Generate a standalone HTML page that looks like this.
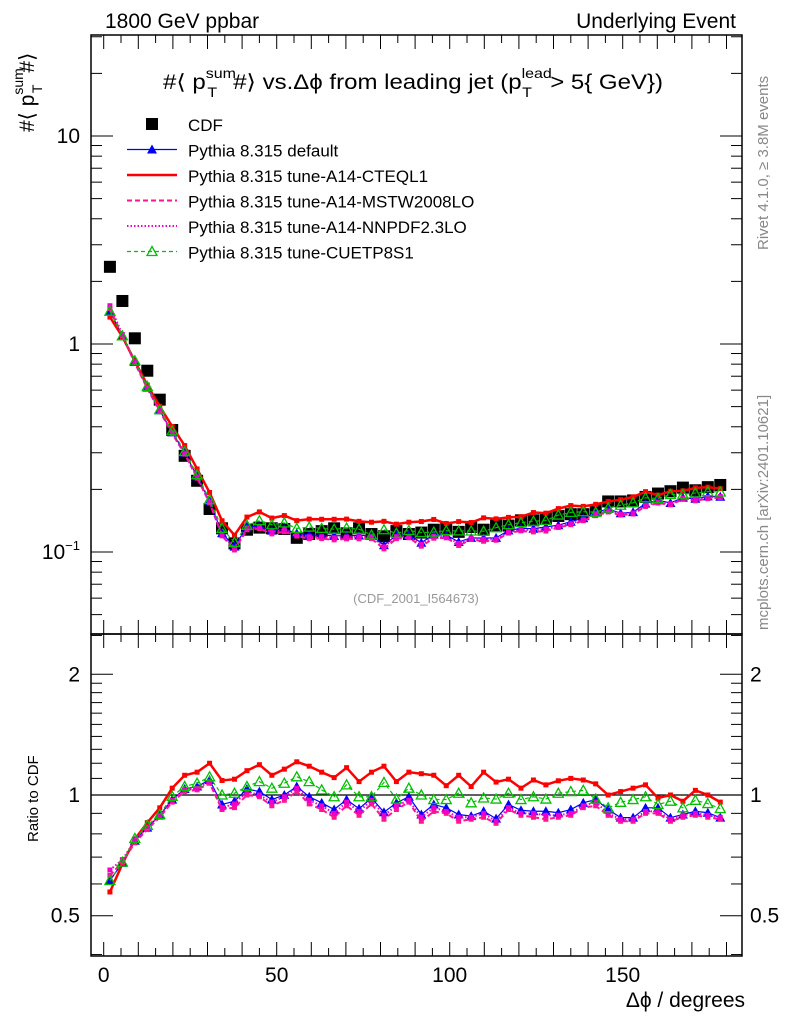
<!DOCTYPE html>
<html><head><meta charset="utf-8"><style>
body{margin:0;background:#fff}
svg{display:block;font-family:"Liberation Sans",sans-serif}
</style></head><body>
<svg id="c" width="786" height="1024" viewBox="0 0 786 1024">
<text x="105" y="28" font-size="21">1800 GeV ppbar</text>
<text x="736" y="28" font-size="21" text-anchor="end">Underlying Event</text>
<text x="163" y="89" font-size="21" textLength="500" lengthAdjust="spacingAndGlyphs">#⟨ p<tspan font-size="14" dy="-11">sum</tspan><tspan font-size="14" dx="-25" dy="19">T</tspan><tspan dy="-8" dx="14">#⟩ vs.Δϕ from leading jet  (p</tspan><tspan font-size="14" dy="-11">lead</tspan><tspan font-size="14" dx="-26" dy="19">T</tspan><tspan dy="-8" dx="16">&gt; 5{ GeV})</tspan></text>
<text transform="translate(34,132) rotate(-90)" font-size="21">#⟨ p<tspan font-size="14" dy="-11">sum</tspan><tspan font-size="14" dx="-25" dy="19">T</tspan><tspan dy="-8" dx="12">#⟩</tspan></text>
<text transform="translate(38,842) rotate(-90)" font-size="15">Ratio to CDF</text>
<text x="745" y="1007" font-size="21" text-anchor="end">Δϕ / degrees</text>
<text transform="translate(768,250) rotate(-90)" font-size="15" fill="#888">Rivet 4.1.0, ≥ 3.8M events</text>
<text transform="translate(768,630) rotate(-90)" font-size="15" fill="#888">mcplots.cern.ch [arXiv:2401.10621]</text>
<text x="416" y="603" font-size="13" fill="#999" text-anchor="middle">(CDF_2001_I564673)</text>
<g id="g"></g>
</svg>
<script>
const phi=[];for(let i=0;i<50;i++)phi.push(1.8+3.6*i);
const cdf=[2.35,1.61,1.065,0.744,0.54,0.386,0.29,0.22,0.161,0.130,0.110,0.128,0.131,0.130,0.129,0.117,0.122,0.126,0.130,0.123,0.130,0.122,0.119,0.126,0.122,0.124,0.128,0.130,0.125,0.132,0.128,0.134,0.134,0.142,0.142,0.145,0.149,0.152,0.152,0.159,0.175,0.175,0.177,0.184,0.191,0.196,0.204,0.198,0.205,0.210];
const rDefault=[.612,.677,.769,.829,.889,.974,1.035,1.05,1.09,.947,.965,1.035,1.02,.974,1.0,1.05,.99,.956,.92,.974,.924,.983,.906,.956,.99,.894,.947,.929,.894,.886,.911,.873,.947,.916,.911,.911,.903,.92,.956,.974,.92,.878,.878,.929,.929,.878,.894,.911,.903,.878];
const rCteq=[.573,.673,.776,.853,.929,1.04,1.12,1.14,1.20,1.087,1.095,1.15,1.19,1.12,1.16,1.21,1.18,1.14,1.105,1.17,1.08,1.14,1.18,1.08,1.14,1.13,1.12,1.055,1.12,1.05,1.14,1.077,1.095,1.04,1.09,1.06,1.085,1.10,1.09,1.066,1.0,1.02,1.04,1.06,.983,1.0,.965,1.027,1.0,.96];
const rMstw=[.63,.68,.76,.82,.88,.96,1.02,1.03,1.07,.92,.93,1.0,.99,.94,.97,1.02,.95,.92,.88,.94,.89,.95,.87,.92,.96,.86,.91,.90,.86,.87,.88,.85,.92,.89,.88,.87,.88,.89,.93,.94,.89,.86,.86,.90,.90,.86,.88,.89,.88,.87];
const rNnpdf=[.65,.69,.77,.83,.89,.97,1.03,1.04,1.08,.93,.95,1.02,1.0,.96,.99,1.04,.97,.94,.90,.96,.91,.97,.89,.94,.97,.88,.93,.91,.88,.88,.90,.86,.93,.90,.90,.89,.89,.90,.94,.96,.90,.87,.87,.91,.91,.87,.89,.90,.89,.88];
const rCuetp=[.612,.68,.779,.84,.894,.992,1.05,1.07,1.11,1.0,1.01,1.05,1.08,1.04,1.07,1.11,1.08,1.03,.99,1.06,.99,.99,1.075,.977,1.04,1.0,.974,.974,1.01,.956,.983,.977,1.01,.974,.99,.977,1.01,1.02,1.027,.977,.929,.959,.974,.99,.947,.965,.929,.97,.952,.925];
const xTicks=[0,50,100,150];
const yMainTicks=[1,10];
const yRatioTicks=[0.5,1,2];

const NS="http://www.w3.org/2000/svg",G=document.getElementById('g');
const L=91,R=742,T=35,M=634,B=956;
const X=v=>103.7+3.46*v;
const Y=v=>344-208*Math.log10(v);
const YR=v=>795-120.7*Math.log2(v);
function el(t,a,p){const e=document.createElementNS(NS,t);for(const k in a)e.setAttribute(k,a[k]);(p||G).appendChild(e);return e;}
function line(x1,y1,x2,y2,w,c){return el('line',{x1,y1,x2,y2,stroke:c||'#000','stroke-width':w||1});}
let f=el('rect',{x:L,y:T,width:R-L,height:M-T,fill:'none',stroke:'#000','stroke-width':1.5});


f=el('rect',{x:L,y:M,width:R-L,height:B-M,fill:'none',stroke:'#000','stroke-width':1.5});


for(let d=0;d<=180;d+=5){const x=X(d),len=d%10==0?14:8;
 line(x,M,x,M-len);line(x,T,x,T+len);line(x,B,x,B-len);line(x,M,x,M+len);}
xTicks.forEach(v=>{const t=el('text',{x:X(v),y:982,'font-size':21,'text-anchor':'middle'});t.textContent=v;

});
for(let e=-2;e<=1;e++)for(let m=1;m<10;m++){const v=m*Math.pow(10,e),y=Y(v);if(y<T||y>M)continue;const len=m==1?22:11;line(L,y,L+len,y);line(R,y,R-len,y);}
yMainTicks.forEach(v=>{const t=el('text',{x:80,y:Y(v)+7,'font-size':21,'text-anchor':'end'});t.textContent=v;

});
let t=el('text',{x:80,y:Y(0.1)+7,'font-size':21,'text-anchor':'end'});t.innerHTML='10<tspan font-size="13" dy="-9">−1</tspan>';


[0.4,0.5,0.6,0.7,0.8,0.9,1,1.1,1.2,1.3,1.4,1.5,1.6,1.7,1.8,1.9,2,2.5].forEach(v=>{const y=YR(v);if(y<M||y>B)return;const len=(v==0.5||v==1||v==2)?22:11;line(L,y,L+len,y);line(R,y,R-len,y);});
yRatioTicks.forEach(v=>{[80,750].forEach(x=>{const t=el('text',{x,y:YR(v)+7,'font-size':21,'text-anchor':x<100?'end':'start'});t.textContent=v;

});});
let one=line(L,YR(1),R,YR(1),1.2);


const series=[
 {name:'default',r:rDefault,c:'#0000ff',w:1.2,dash:'',mk:'tri'},
 {name:'cteql1',r:rCteq,c:'#ff0000',w:2.5,dash:'',mk:'sq'},
 {name:'mstw2008lo',r:rMstw,c:'#ff1493',w:2,dash:'5,3',mk:'sq'},
 {name:'nnpdf23lo',r:rNnpdf,c:'#ee00cc',w:2,dash:'1.5,2',mk:'sq'},
 {name:'cuetp8s1',r:rCuetp,c:'#00c000',w:1.2,dash:'4,3',mk:'otri'}];
function marker(p,x,y,s){
 if(s.mk=='tri')return el('path',{d:`M${x-5},${y+4}L${x+5},${y+4}L${x},${y-5}Z`,fill:s.c},p);
 if(s.mk=='otri')return el('path',{d:`M${x-5},${y+4}L${x+5},${y+4}L${x},${y-5}Z`,fill:'none',stroke:s.c,'stroke-width':1.3},p);
 return el('rect',{x:x-2.5,y:y-2.5,width:5,height:5,fill:s.c},p);}
const cg=el('g',{});


phi.forEach((p,i)=>{const r=el('rect',{x:X(p)-6,y:Y(cdf[i])-6,width:12,height:12,fill:'#000'},cg);

});
series.forEach(s=>{
 const g=el('g',{});
 
 
 const vals=s.r.map((r,i)=>r*cdf[i]);
 el('polyline',{points:phi.map((p,i)=>X(p)+','+Y(vals[i])).join(' '),fill:'none',stroke:s.c,'stroke-width':s.w,'stroke-dasharray':s.dash},g);
 el('polyline',{points:phi.map((p,i)=>X(p)+','+YR(s.r[i])).join(' '),fill:'none',stroke:s.c,'stroke-width':s.w,'stroke-dasharray':s.dash},g);
 phi.forEach((p,i)=>{marker(g,X(p),Y(vals[i]),s);marker(g,X(p),YR(s.r[i]),s);});
});
const leg=[['CDF','cdf'],['Pythia 8.315 default',0],['Pythia 8.315 tune-A14-CTEQL1',1],['Pythia 8.315 tune-A14-MSTW2008LO',2],['Pythia 8.315 tune-A14-NNPDF2.3LO',3],['Pythia 8.315 tune-CUETP8S1',4]];
leg.forEach((l,i)=>{const y=124+25.5*i,g=el('g',{});
 
 
 if(l[1]=='cdf')el('rect',{x:146,y:y-6,width:12,height:12,fill:'#000'},g);
 else{const s=series[l[1]];el('line',{x1:127,y1:y,x2:177,y2:y,stroke:s.c,'stroke-width':s.w,'stroke-dasharray':s.dash},g);if(s.mk!='sq')marker(g,152,y,s);}
 const t=el('text',{x:188,y:y+7,'font-size':17},g);t.textContent=l[0];});
</script>
</body></html>
